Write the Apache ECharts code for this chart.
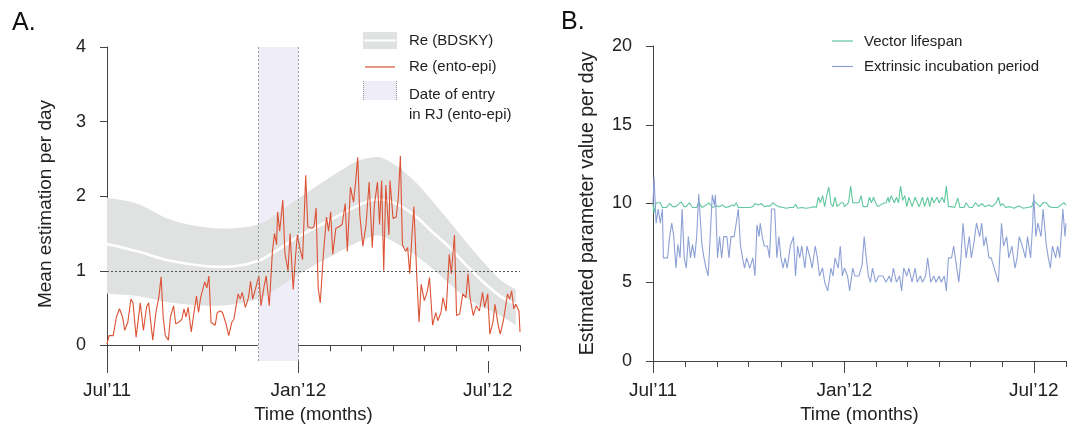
<!DOCTYPE html>
<html><head><meta charset="utf-8">
<script src="https://cdn.jsdelivr.net/npm/echarts@6/dist/echarts.min.js"></script>
<style>html,body{margin:0;padding:0;background:#fff}#c{width:1077px;height:429px}</style>
</head><body><div id="c"></div>
<script>
// ---------- data (x = days since 1 Jul 2011) ----------
const reDays = [0,2,6,9,12,15,17,20,23,25, 28,32,35,38,40,44,47,50,52,54, 56,59,61,64,66,69,72,74,76,78,
 81,83,86,88,90,94,96,98,100,104, 106,109,111,114,117,120,122,126,128,130, 133,136,138,140,143,146,148,151,153,156,
 159,161,163,164,166,169,171,174,176,179, 181,183,185,188,191,193,197,199,201,203, 205,208,211,213,215,217,220,223,226,229,
 231,234,237,239,241,243,246,249,252,255, 257,260,262,264,266,268,271,272,275,278, 280,282,284,287,289,291,293,295,298,300,
 302,305,308,310,313,316,318,321,323,326, 329,331,334,336,339,342,345,347,349,352, 355,358,361,363,366,368,371,373,376,378,
 381,383,385,387,389,391,393,396,397];
const reVals = [0.02,0.13,0.13,0.38,0.49,0.38,0.2,0.31,0.62,0.57, 0.11,0.57,0.2,0.51,0.57,0.07,0.44,0.66,0.92,0.38, 0.13,0.07,0.38,0.53,0.29,0.31,0.35,0.49,0.38,0.51,
 0.18,0.38,0.66,0.44,0.64,0.85,0.77,0.93,0.31,0.27, 0.44,0.46,0.44,0.31,0.13,0.31,0.35,0.69,0.62,0.71, 0.51,0.64,0.86,0.62,0.77,0.93,0.53,0.79,0.93,0.53,
 1.26,1.5,1.35,1.79,1.53,1.95,1.24,1.0,1.5,0.75, 1.15,1.48,1.33,1.15,2.28,1.59,1.57,1.59,1.84,0.77, 0.57,1.22,1.72,1.53,1.79,1.22,1.57,1.59,1.62,1.9,
 1.26,2.12,1.92,2.19,2.52,1.75,1.33,1.62,2.19,1.31, 1.88,2.19,1.62,2.21,1.0,2.15,1.48,2.21,1.7,1.72, 1.97,2.54,1.35,1.26,1.31,0.96,1.44,1.86,0.86,0.31,
 0.82,0.6,0.73,0.91,0.27,0.44,0.33,0.44,0.64,0.46, 1.22,0.96,1.48,0.4,0.42,0.69,0.64,0.96,0.64,0.4, 0.53,0.46,0.71,0.51,0.69,0.15,0.31,0.55,0.27,0.15,
 0.33,0.51,0.69,0.62,0.73,0.49,0.55,0.46,0.18];

const bdDays  = [0,29,62,96,122,145,162,184,212,239,255,265,278,295,312,328,345,361,378,393];
const bdUpper = [1.98,1.9,1.68,1.58,1.57,1.62,1.75,1.97,2.23,2.46,2.52,2.51,2.41,2.21,1.95,1.68,1.39,1.13,0.88,0.75];
const bdMed   = [1.36,1.26,1.13,1.06,1.06,1.13,1.26,1.46,1.66,1.86,1.95,1.95,1.9,1.75,1.53,1.33,1.08,0.86,0.66,0.55];
const bdLower = [0.69,0.66,0.57,0.53,0.55,0.62,0.75,0.95,1.17,1.37,1.46,1.46,1.37,1.22,1.04,0.84,0.64,0.51,0.4,0.27];

const entryStartDay = 145, entryEndDay = 184;

const eipDays = [0,1,3,5,7,9,10,14,16,18, 20,22,24,26,28,30,32,34,36,38, 40,42,44,47,49,51,53,55,57,59,
 60,62,64,66,68,71,73,75,78,80, 82,84,86,88,90,93,96,98,100,102, 103,105,107,110,112,114,117,119,121,123,
 125,127,129,132,135,137,139,141,143,146, 148,151,153,156,158,160,163,165,168,171, 173,175,178,180,182,184,187,189,192,194,
 198,201,203,205,207,209,211,214,217,221, 224,227,229,231,234,237,239,241,244,246, 249,252,254,257,259,262,264,267,270,272,
 275,277,280,282,284,287,289,292,294,296, 298,301,304,306,308,311,314,316,318,320, 323,325,328,332,335,337,340,342,345,348,
 350,352,355,358,360,363,365,366,368,370, 373,375,378,380,382,384,387,389,391,394, 396,397];
const eipVals = [10.0,11.7,8.75,9.65,8.75,9.65,6.55,6.55,7.9,8.75, 7.9,5.9,7.4,6.55,9.65,6.55,5.9,7.9,6.55,7.4, 6.55,7.9,10.6,7.4,6.55,5.9,5.4,7.9,10.55,9.9,
 10.55,6.55,7.9,6.55,7.9,7.9,6.55,7.9,7.9,8.75, 9.65,7.4,6.55,5.9,6.55,5.9,6.55,5.4,8.65,7.9, 8.75,7.9,7.3,7.3,6.55,9.65,9.65,6.55,7.9,6.55,
 5.9,6.55,5.9,7.3,7.9,5.4,7.3,6.55,7.3,5.9, 7.3,6.55,5.9,7.3,6.55,5.4,5.9,5.0,4.45,5.9, 5.4,6.55,5.9,7.3,5.4,5.9,5.4,4.45,5.9,5.4,
 5.4,6.1,7.9,6.55,5.4,5.0,5.9,5.0,5.4,5.4, 5.0,5.4,5.0,5.9,5.0,5.4,4.45,5.9,5.4,5.9, 5.0,5.9,5.0,5.4,5.0,5.4,6.55,5.0,5.4,5.0,
 5.4,5.0,5.4,4.45,6.55,6.55,7.3,5.9,5.0,6.55, 8.75,6.55,7.9,6.55,7.3,8.75,7.9,8.75,7.3,7.9, 6.55,6.55,5.9,5.0,8.75,7.3,7.9,6.55,7.3,5.9,
 6.55,7.9,7.3,6.55,7.9,6.55,8.75,10.6,7.9,8.75, 7.9,9.65,7.4,6.55,5.9,7.3,6.55,7.3,6.55,9.65, 7.9,8.75];

const vlDays = [0,1,3,7,9,13,16,19,22,27, 30,32,35,38,42,44,47,51,54,57, 61,64,67,70,73,76,78,80,82,86,
 90,93,96,98,101,104,107,110,113,115, 118,121,125,128,132,135,137,139,143,147, 152,155,157,159,161,163,165,167,169,171,
 173,175,177,181,183,184,188,190,192,198, 200,202,206,208,210,212,214,216,221,224, 226,227,229,232,234,236,238,240,242,244,
 246,249,252,254,256,259,261,264,266,268, 270,273,275,278,280,282,284,287,290,293, 295,299,301,304,307,310,313,316,319,323,
 326,330,332,334,336,339,343,347,352,356, 360,364,366,368,372,375,378,381,384,389, 392,395,397];
const vlVals = [10.0,9.4,10.05,10.05,9.75,9.75,10.0,9.8,9.8,10.1, 9.8,9.8,10.05,9.75,9.75,10.1,9.75,9.9,10.05,9.75, 9.85,9.8,9.9,9.75,9.8,9.9,9.85,10.05,9.75,9.75,
 9.75,9.75,9.8,10.0,9.9,10.0,9.8,9.85,9.85,10.05, 9.9,9.8,9.75,9.7,9.75,9.75,9.95,9.7,9.75,9.7, 9.75,9.8,9.75,10.4,10.05,10.5,9.8,10.5,11.05,10.0,
 9.8,10.4,9.8,10.05,10.05,9.8,10.05,11.1,10.05,10.05, 10.5,9.8,9.8,10.4,10.05,10.4,10.05,9.8,10.0,10.05, 10.4,10.05,10.5,10.05,10.4,10.05,11.1,10.2,10.5,9.8,
 10.4,9.8,10.4,10.05,9.8,10.4,9.8,10.4,9.8,10.4, 10.05,10.4,10.05,10.4,10.05,11.1,9.8,9.8,9.75,10.35, 9.75,9.75,10.05,9.75,9.75,10.05,9.8,10.0,9.8,9.9,
 9.8,10.05,10.4,9.85,10.0,9.75,9.8,9.7,9.85,9.7, 9.75,9.8,10.2,10.05,9.8,10.05,10.05,9.8,9.75,9.75, 9.9,10.05,9.9];

// month starts (days since 1 Jul 2011), Jul 2011 ... Aug 2012
const monthTicks = [0,31,62,92,123,153,184,215,244,275,305,336,366,397];
const majorTicks = [0,184,366];
const majorTickLabels = ['Jul\u201911', 'Jan\u201912', 'Jul\u201912'];
const yTicksA = [0, 1, 2, 3, 4];

// ---------- helpers ----------
const pairs = (ds, vs) => ds.map((d, i) => [d, vs[i]]);
const FONT = 'Liberation Sans';
const AX = '#444';
const TXT = '#222';
const XMAX = 397;
const YMIN_A = -0.21, YMAX_A = 4;
const RED = '#DC5234', GREEN = '#60C79E', BLUE = '#8DA1D6', BAND = '#E0E1E1', ENTRY = '#EFEEF8';

// Catmull-Rom -> cubic bezier path through pixel points (rendering only)
function curve(pts) {
  let d = '';
  const n = pts.length;
  for (let i = 0; i < n - 1; i++) {
    const p0 = pts[Math.max(i - 1, 0)], p1 = pts[i], p2 = pts[i + 1], p3 = pts[Math.min(i + 2, n - 1)];
    const c1 = [p1[0] + (p2[0] - p0[0]) / 6, p1[1] + (p2[1] - p0[1]) / 6];
    const c2 = [p2[0] - (p3[0] - p1[0]) / 6, p2[1] - (p3[1] - p1[1]) / 6];
    d += ` C${c1[0]},${c1[1]} ${c2[0]},${c2[1]} ${p2[0]},${p2[1]}`;
  }
  return d;
}

function renderEntry(params, api) {
  if (params.dataIndex !== 0) return null;
  const e0 = api.coord([entryStartDay, YMAX_A]);
  const e1 = api.coord([entryEndDay, YMIN_A]);
  return { type: 'rect', z2: 0,
    shape: { x: e0[0], y: e0[1], width: e1[0] - e0[0], height: e1[1] - e0[1] },
    style: { fill: ENTRY } };
}

function renderBand(params, api) {
  if (params.dataIndex !== 0) return null;
  const up = bdDays.map((d, i) => api.coord([d, bdUpper[i]]));
  const lo = bdDays.map((d, i) => api.coord([d, bdLower[i]])).reverse();
  const md = bdDays.map((d, i) => api.coord([d, bdMed[i]]));
  const bandPath = `M${up[0][0]},${up[0][1]}` + curve(up) + ` L${lo[0][0]},${lo[0][1]}` + curve(lo) + ' Z';
  const medPath = `M${md[0][0]},${md[0][1]}` + curve(md);
  return {
    type: 'group',
    children: [
      { type: 'path', z2: 10, shape: { pathData: bandPath }, style: { fill: BAND, stroke: null } },
      { type: 'path', z2: 11, shape: { pathData: medPath }, style: { fill: null, stroke: '#fff', lineWidth: 2.6 } }
    ]
  };
}

function xAxes(gi) {
  return [
    { type: 'value', gridIndex: gi, min: 0, max: XMAX, position: 'bottom',
      axisLine: { lineStyle: { color: AX, width: 1 } },
      axisTick: { show: true, customValues: monthTicks, length: 6, lineStyle: { color: AX } },
      axisLabel: { show: false }, splitLine: { show: false } },
    { type: 'value', gridIndex: gi, min: 0, max: XMAX, position: 'bottom',
      axisLine: { show: false },
      axisTick: { show: true, customValues: majorTicks, length: 12, lineStyle: { color: AX } },
      axisLabel: { customValues: majorTicks, margin: 20, color: TXT, fontSize: 19, fontFamily: FONT,
        formatter: v => majorTickLabels[majorTicks.indexOf(v)] || '' },
      splitLine: { show: false },
      name: 'Time (months)', nameLocation: 'middle', nameGap: 44,
      nameTextStyle: { color: TXT, fontSize: 18.5, fontFamily: FONT } }
  ];
}

const chart = echarts.init(document.getElementById('c'));
const legendText = { fill: TXT, fontSize: 15, fontFamily: FONT };
chart.setOption({
  animation: false,
  backgroundColor: '#fff',
  grid: [
    { left: 107, top: 47, width: 413, height: 317 },
    { left: 653, top: 46, width: 413, height: 318 }
  ],
  xAxis: [...xAxes(0), ...xAxes(1)],
  yAxis: [
    { type: 'value', gridIndex: 0, min: YMIN_A, max: YMAX_A,
      axisLine: { show: true, lineStyle: { color: AX } },
      axisTick: { show: true, customValues: yTicksA, length: 7, lineStyle: { color: AX } },
      axisLabel: { customValues: yTicksA, margin: 21, color: TXT, fontSize: 18, fontFamily: FONT },
      splitLine: { show: false },
      name: 'Mean estimation per day', nameLocation: 'middle', nameGap: 52,
      nameTextStyle: { color: TXT, fontSize: 19, fontFamily: FONT } },
    { type: 'value', gridIndex: 1, min: 0, max: 20, interval: 5,
      axisLine: { show: true, lineStyle: { color: AX } },
      axisTick: { show: true, length: 7, lineStyle: { color: AX } },
      axisLabel: { margin: 21, color: TXT, fontSize: 18, fontFamily: FONT },
      splitLine: { show: false },
      name: 'Estimated parameter value per day', nameLocation: 'middle', nameGap: 55,
      nameTextStyle: { color: TXT, fontSize: 19.5, fontFamily: FONT } }
  ],
  series: [
    { name: 'Date of entry in RJ (ento-epi)', type: 'custom', xAxisIndex: 0, yAxisIndex: 0, silent: true, z: 1,
      data: [[entryStartDay, YMIN_A], [entryEndDay, YMAX_A]],
      renderItem: renderEntry },
    { name: 'Re (BDSKY)', type: 'custom', xAxisIndex: 0, yAxisIndex: 0, silent: true, z: 2,
      data: bdDays.map((d, i) => [d, bdLower[i], bdUpper[i]]),
      encode: { x: 0, y: [1, 2] },
      renderItem: renderBand },
    { name: 'Re (ento-epi)', type: 'line', xAxisIndex: 0, yAxisIndex: 0, z: 4,
      showSymbol: false, lineStyle: { color: RED, width: 1.1 },
      data: pairs(reDays, reVals),
      markLine: { silent: true, symbol: 'none', label: { show: false }, z: 5,
        data: [
          { yAxis: 1, lineStyle: { type: [2, 2], color: '#555', width: 1 } },
          { xAxis: entryStartDay, lineStyle: { type: [2, 2], color: '#999', width: 1 } },
          { xAxis: entryEndDay, lineStyle: { type: [2, 2], color: '#999', width: 1 } }
        ] } },
    { name: 'Vector lifespan', type: 'line', xAxisIndex: 2, yAxisIndex: 1,
      showSymbol: false, lineStyle: { color: GREEN, width: 1.1 },
      data: pairs(vlDays, vlVals) },
    { name: 'Extrinsic incubation period', type: 'line', xAxisIndex: 2, yAxisIndex: 1,
      showSymbol: false, lineStyle: { color: BLUE, width: 1.1 },
      data: pairs(eipDays, eipVals) }
  ],
  graphic: [
    { type: 'text', x: 12, y: 23, style: { text: 'A.', fill: '#111', fontSize: 25, fontFamily: FONT, verticalAlign: 'middle' } },
    { type: 'text', x: 561, y: 22, style: { text: 'B.', fill: '#111', fontSize: 25, fontFamily: FONT, verticalAlign: 'middle' } },
    // legend A
    { type: 'rect', shape: { x: 363, y: 32, width: 34, height: 17 }, style: { fill: BAND } },
    { type: 'line', shape: { x1: 364, y1: 40.5, x2: 396, y2: 40.5 }, style: { stroke: '#fff', lineWidth: 2 } },
    { type: 'text', x: 409, y: 41, style: Object.assign({ text: 'Re (BDSKY)', verticalAlign: 'middle' }, legendText) },
    { type: 'line', shape: { x1: 365, y1: 67, x2: 395, y2: 67 }, style: { stroke: RED, lineWidth: 1.2 } },
    { type: 'text', x: 409, y: 67, style: Object.assign({ text: 'Re (ento-epi)', verticalAlign: 'middle' }, legendText) },
    { type: 'rect', shape: { x: 363, y: 81, width: 34, height: 19 }, style: { fill: ENTRY } },
    { type: 'line', shape: { x1: 363.5, y1: 81, x2: 363.5, y2: 100 }, style: { stroke: '#999', lineWidth: 1, lineDash: [1, 1] } },
    { type: 'line', shape: { x1: 396.5, y1: 81, x2: 396.5, y2: 100 }, style: { stroke: '#999', lineWidth: 1, lineDash: [1, 1] } },
    { type: 'text', x: 409, y: 95, style: Object.assign({ text: 'Date of entry', verticalAlign: 'middle' }, legendText) },
    { type: 'text', x: 409, y: 115, style: Object.assign({ text: 'in RJ (ento-epi)', verticalAlign: 'middle' }, legendText) },
    // legend B
    { type: 'line', shape: { x1: 832, y1: 41, x2: 853, y2: 41 }, style: { stroke: GREEN, lineWidth: 1.2 } },
    { type: 'text', x: 864, y: 42, style: Object.assign({ text: 'Vector lifespan', verticalAlign: 'middle' }, legendText) },
    { type: 'line', shape: { x1: 832, y1: 66.5, x2: 853, y2: 66.5 }, style: { stroke: BLUE, lineWidth: 1.2 } },
    { type: 'text', x: 864, y: 67, style: Object.assign({ text: 'Extrinsic incubation period', verticalAlign: 'middle' }, legendText) }
  ]
});
</script>
</body></html>
